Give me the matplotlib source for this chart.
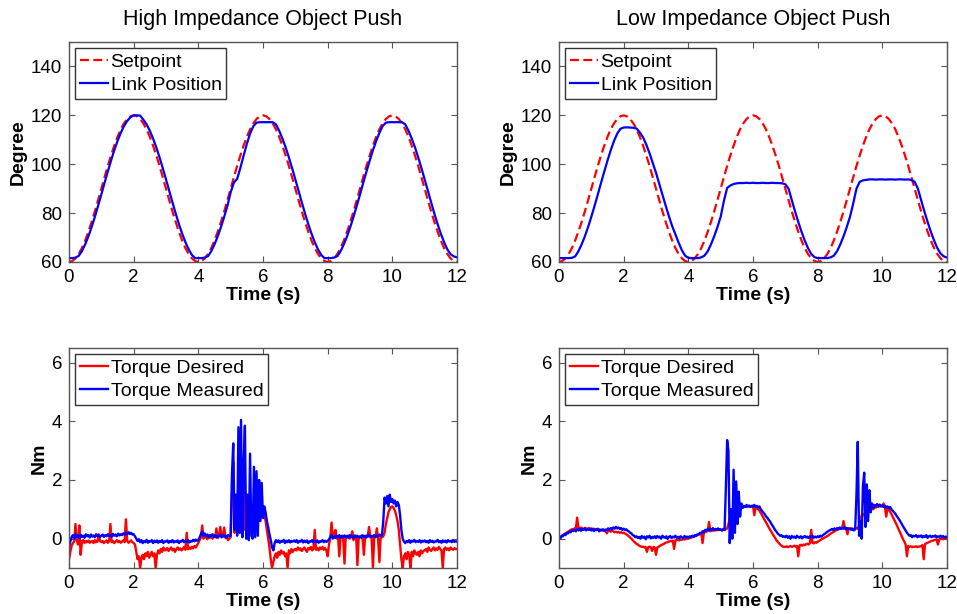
import numpy as np
import matplotlib
matplotlib.use("Agg")
import matplotlib.pyplot as plt

plt.rcParams['font.family'] = ['Liberation Sans', 'DejaVu Sans']

# ---------------- data ----------------
titles = ["High Impedance Object Push", "Low Impedance Object Push"]
pos_legend = ["Setpoint", "Link Position"]
tq_legend = ["Torque Desired", "Torque Measured"]
x_ticks = [0, 2, 4, 6, 8, 10, 12]
deg_ticks = [60, 80, 100, 120, 140]
nm_ticks = [0, 2, 4, 6]

# positions sampled every 0.1 s (0 .. 12 s)
time_pos = np.linspace(0, 12, 121)
setpoint_deg = [
    60, 60.4, 61.5, 63.3, 65.7, 68.8, 72.4, 76.4, 80.7, 85.3,
    90, 94.7, 99.3, 103.6, 107.6, 111.2, 114.3, 116.7, 118.5, 119.6,
    120, 119.6, 118.5, 116.7, 114.3, 111.2, 107.6, 103.6, 99.3, 94.7,
    90, 85.3, 80.7, 76.4, 72.4, 68.8, 65.7, 63.3, 61.5, 60.4,
    60, 60.4, 61.5, 63.3, 65.7, 68.8, 72.4, 76.4, 80.7, 85.3,
    90, 94.7, 99.3, 103.6, 107.6, 111.2, 114.3, 116.7, 118.5, 119.6,
    120, 119.6, 118.5, 116.7, 114.3, 111.2, 107.6, 103.6, 99.3, 94.7,
    90, 85.3, 80.7, 76.4, 72.4, 68.8, 65.7, 63.3, 61.5, 60.4,
    60, 60.4, 61.5, 63.3, 65.7, 68.8, 72.4, 76.4, 80.7, 85.3,
    90, 94.7, 99.3, 103.6, 107.6, 111.2, 114.3, 116.7, 118.5, 119.6,
    120, 119.6, 118.5, 116.7, 114.3, 111.2, 107.6, 103.6, 99.3, 94.7,
    90, 85.3, 80.7, 76.4, 72.4, 68.8, 65.7, 63.3, 61.5, 60.4,
    60]
link_high_deg = [
    61.6, 61.6, 61.8, 62.5, 64.5, 67.2, 70.5, 74.3, 78.5, 83.0,
    87.6, 92.4, 97.0, 101.5, 105.7, 109.5, 112.8, 115.6, 117.7, 119.2,
    120.0, 120.0, 119.9, 118.2, 116.3, 113.7, 110.5, 106.9, 102.8, 98.4,
    93.8, 89.1, 84.4, 79.8, 75.5, 71.6, 68.1, 65.2, 62.9, 61.6,
    61.6, 61.6, 61.8, 62.4, 64.4, 67.2, 70.5, 74.3, 78.5, 83.0,
    88.5, 92.5, 94.0, 98.5, 103.5, 108.3, 112.5, 115.5, 117.0, 117.2,
    117.2, 117.2, 117.2, 117.2, 116.3, 113.7, 110.5, 106.9, 102.8, 98.4,
    93.8, 89.1, 84.4, 79.8, 75.5, 71.6, 68.1, 65.2, 62.9, 61.6,
    61.6, 61.6, 61.8, 62.4, 64.4, 67.2, 70.5, 74.3, 78.5, 83.0,
    87.6, 92.4, 97.0, 101.5, 105.7, 109.5, 112.8, 115.6, 117.0, 117.2,
    117.2, 117.2, 117.2, 117.2, 116.3, 113.7, 110.5, 106.9, 102.8, 98.4,
    93.8, 89.1, 84.4, 79.8, 75.5, 71.6, 68.1, 65.2, 63.2, 62.3,
    61.9]
link_low_deg = [
    61.6, 61.6, 61.6, 61.6, 61.7, 62.3, 64.4, 67.2, 70.5, 74.3,
    78.5, 83.0, 87.6, 92.4, 97.0, 101.5, 105.7, 109.5, 112.5, 114.5,
    115.0, 115.1, 115.0, 114.9, 114.6, 113.0, 111.0, 108.0, 104.5, 100.5,
    96.5, 92.0, 87.5, 83.0, 78.7, 74.7, 71.3, 67.9, 64.8, 62.6,
    61.7, 61.6, 61.6, 61.6, 61.9, 62.6, 64.4, 67.2, 70.5, 74.3,
    78.5, 85.0, 90.3, 91.3, 91.9, 92.2, 92.3, 92.3, 92.4, 92.3,
    92.4, 92.3, 92.3, 92.4, 92.3, 92.3, 92.4, 92.3, 92.3, 92.2,
    91.8, 90.0, 85.3, 80.7, 76.4, 72.4, 68.8, 65.7, 63.3, 62.0,
    61.6, 61.6, 61.6, 61.6, 61.9, 62.6, 64.4, 67.2, 70.5, 74.3,
    78.5, 84.0, 90.0, 92.8, 93.4, 93.6, 93.8, 93.8, 93.7, 93.8,
    93.8, 93.7, 93.8, 93.8, 93.7, 93.8, 93.8, 93.7, 93.8, 93.5,
    92.8, 90.0, 85.3, 80.7, 76.4, 72.4, 68.8, 65.7, 63.5, 62.3,
    61.8]

# torques sampled every 0.04 s (0 .. 12 s), in 1/100 Nm
time_tq = np.linspace(0, 12, 301)
torque_desired_high_cNm = [
    -70, -45, -25, -15, -10, 50, -5, -20, 45, -55, -10, -5, -15, -8, -12, -6, -14, -10, -8, -15, -5, -12, -10, 15, -8,
    -12, -8, -15, -10, -6, -14, -9, 50, -12, -8, -15, -10, -5, -12, -8, -14, -10, -6, -12, 66, -8, -14, -10, -6, -12,
    -15, -20, -45, -70, -60, -100, -65, -55, -70, -50, -60, -45, -65, -55, -45, -60, -50, -100, -55, -40, -50, -35, -45, -30, -40,
    -38, -32, -42, -35, -30, -40, -34, -45, -36, -30, -38, -33, -40, -35, -28, -38, 20, -36, -30, -35, -28, -33, -25, -30, -22,
    -15, -5, 5, 45, 0, 8, 5, -2, 10, 3, 8, 0, 12, 5, 35, 2, 10, 40, 5, 8, 38, 2, 5, -5, 0,
    5, 150, 260, 20, 120, 30, 180, 20, 100, 40, 165, 30, 110, 50, 130, 60, 100, 80, 110, 90, 100, 110, 95, 100, 95,
    100, 85, 60, 30, 0, -30, -70, -100, -80, -60, -50, -65, -45, -55, -40, -50, -45, -60, -50, -100, -40, -50, -35, -45, -38,
    -35, -40, -30, -38, -33, -42, -35, -30, -38, -45, -32, -36, -28, -40, -35, 30, -38, -32, -40, -30, -35, -28, -38, -32, -40,
    -60, -20, 0, 55, 5, 10, 30, 0, 8, -60, 5, 10, 0, -85, 8, 5, 10, 0, 5, 25, -5, 5, 10, -90, 5,
    5, 10, 0, -55, 8, 5, 10, 40, 5, 0, -100, 8, 5, 35, 0, -80, 10, 5, 8, 20, 50, 70, 90, 100, 108,
    110, 105, 95, 80, 60, 30, -20, -70, -100, -60, -50, -70, -45, -55, -100, -45, -60, -40, -50, -55, -45, -60, -40, -50, -42,
    -40, -35, -45, -30, -38, -42, -35, -30, -40, -33, -38, -28, -35, -40, -100, -35, -30, -38, -33, -40, -30, -35, -38, -32, -36,
    -35]
torque_measured_high_cNm = [
    -30, -10, 5, 12, 0, 15, 5, 12, 2, 14, 6, 10, 3, 15, 8, 12, 4, 14, 7, 11, 5, 15, 8, 12, 6,
    10, 14, 6, 12, 8, 15, 9, 13, 7, 16, 10, 14, 8, 17, 11, 15, 12, 18, 14, 20, 15, 22, 16, 20, 14,
    15, 8, 0, -8, -2, -12, -5, -15, -8, -12, -4, -14, -8, -10, -5, -15, -7, -12, -6, -14, -8, -11, -5, -15, -9,
    -10, -6, -14, -8, -12, -5, -13, -9, -11, -6, -15, -8, -10, -4, -12, -7, -11, -5, -13, -8, -10, -4, -9, -3, -7,
    -5, 5, 15, 25, 10, 18, 8, 14, 5, 12, 8, 15, 6, 12, 4, 10, 8, 14, 5, 12, 7, 10, 4, 12, 8,
    10, 220, 325, 30, 150, 10, 380, 20, 405, 5, 250, 385, 0, 150, -5, 290, 10, 0, 245, 5, 230, 10, 200, 60, 190,
    70, 110, 90, 60, 40, 15, -5, -30, -40, -15, -5, -12, -6, -14, -8, -10, -4, -15, -7, -12, -5, -13, -8, -10, -6,
    -11, -5, -14, -8, -10, -4, -13, -7, -12, -6, -15, -9, -10, -5, -13, -8, -11, -6, -14, -9, -10, -5, -12, -7, -11,
    -8, -2, 5, 12, 0, 8, 3, 10, 5, 12, 2, 9, 4, 11, 6, 10, 3, 12, 5, 9, 2, 11, 6, 10, 4,
    8, 3, 12, 6, 10, 4, 13, 7, 11, 5, 9, 12, 6, 10, 8, 14, 9, 12, 60, 140, 120, 145, 110, 150, 125,
    135, 120, 130, 110, 125, 115, 80, 30, 0, -10, -15, -8, -12, -5, -14, -7, -10, -4, -12, -8, -11, -5, -13, -7, -10,
    -6, -12, -8, -14, -5, -11, -7, -13, -9, -10, -4, -12, -8, -14, -6, -11, -7, -13, -5, -10, -8, -12, -6, -11, -9,
    -10]
torque_desired_low_cNm = [
    0, 5, 8, 12, 15, 18, 20, 24, 26, 30, 32, 30, 35, 33, 72, 36, 34, 38, 35, 33, 37, 35, 34, 36, 33,
    35, 32, 34, 31, 33, 30, 32, 29, 31, 28, 30, 27, 18, 28, 26, 24, 27, 25, 22, 24, 21, 23, 20, 22, 19,
    20, 18, 15, 12, 8, 4, 0, -5, -10, -14, -18, -20, -24, -26, -28, -27, -30, -28, -45, -29, -27, -30, -42, -28, -30,
    -55, -30, -28, -25, -22, -20, -18, -15, -13, -12, -10, -8, -9, -7, -35, -6, -5, -4, -6, -3, -4, -2, -3, -1, 0,
    0, 2, 3, 5, 6, 8, 10, 12, 14, 16, 18, -15, 20, 22, 24, 26, 57, 25, 28, 27, 29, 28, 30, 29, 30,
    30, 28, 31, 29, 32, 35, 50, 70, 85, 90, 95, 98, 100, 102, 104, 105, 106, 107, 108, 110, 108, 110, 109, 111, 110,
    112, 80, 108, 105, 100, 95, 88, 80, 72, 64, 56, 48, 40, 32, 25, 17, 10, 3, -5, -10, -15, -20, -24, -27, -28,
    -28, -26, -29, -27, -25, -28, -26, -24, -27, -25, -60, -23, -21, -24, -20, -22, -19, -17, -20, -15, 30, -14, -16, -12, -14,
    -10, -8, -5, -2, 0, 3, 5, 8, 10, 14, 17, 20, 22, 25, 28, 30, 32, 33, 35, 36, 60, 34, 36, 15, 35,
    33, 35, 32, 34, 33, 36, 34, 45, 65, 80, 85, 78, 90, 95, 100, 98, 102, 105, 100, 108, 106, 110, 108, 112, 110,
    110, 120, 108, 75, 105, 100, 92, 84, 75, 66, 57, 48, 38, 28, 18, 8, -2, -10, -20, -60, -25, -28, -26, -29, -27,
    -28, -26, -29, -27, -27, -25, -22, -70, -18, -16, -14, -12, -10, -8, -7, -5, -4, -3, -20, -2, -1, 0, -2, 0, -1,
    0]
torque_measured_low_cNm = [
    5, 0, 10, 8, 15, 12, 20, 18, 24, 22, 28, 26, 30, 25, 32, 28, 34, 27, 33, 30, 35, 28, 32, 30, 34,
    28, 33, 26, 31, 29, 34, 25, 30, 28, 32, 26, 31, 29, 35, 30, 36, 32, 38, 34, 40, 35, 38, 33, 36, 30,
    34, 30, 32, 27, 25, 20, 18, 12, 10, 5, 8, 2, 6, 0, 9, 3, 7, -2, 8, 4, 10, 1, 6, 3, 8,
    2, 9, 4, 7, 0, 10, 5, 3, 8, -1, 6, 9, 2, 7, 4, 10, 3, 6, 1, 8, 5, 2, 9, 4, 7,
    3, 8, 5, 10, 6, 12, 9, 15, 14, 20, 18, 25, 22, 30, 27, 33, 28, 34, 30, 36, 29, 33, 31, 35, 30,
    32, 28, 33, 30, 170, 336, 300, -15, 100, 0, 235, 20, 195, 50, 160, 75, 120, 105, 112, 108, 115, 110, 113, 108, 112,
    110, 115, 108, 112, 106, 110, 100, 95, 88, 84, 76, 72, 65, 60, 52, 45, 38, 30, 25, 18, 14, 10, 12, 6, 8,
    5, 10, 3, 8, 0, 9, 4, 7, 2, 10, 5, 3, 8, 1, 6, 9, 4, 7, 2, 8, 5, 10, 3, 7, 4,
    8, 5, 10, 7, 12, 15, 18, 22, 25, 28, 30, 33, 29, 35, 31, 36, 32, 38, 33, 37, 34, 39, 32, 36, 33,
    35, 30, 34, 28, 32, 150, 330, 10, 60, 0, 180, 225, 40, 185, 60, 165, 90, 120, 105, 115, 110, 118, 112, 116, 110,
    114, 108, 112, 106, 110, 104, 108, 100, 95, 90, 85, 78, 72, 65, 58, 50, 42, 35, 28, 20, 15, 10, 12, 5, 10,
    8, 12, 5, 10, 7, 11, 4, 9, 6, 12, 3, 8, 10, 5, 9, 7, 11, 4, 8, 6, 10, 5, 9, 3, 7,
    5]

# ---------------- figure ----------------
RED = "#ff0000"
BLUE = "#0000ff"
SPINE = "#555555"

fig = plt.figure(figsize=(9.57, 6.14), dpi=100)
W, H = 957, 614


def make_ax(x0, y0, x1, y1):
    return fig.add_axes([x0 / W, 1 - y1 / H, (x1 - x0) / W, (y1 - y0) / H])


axes_px = [(69, 42, 457, 262), (559, 42, 947, 262),
           (69, 348, 457, 568), (559, 348, 947, 568)]
axs = [make_ax(*p) for p in axes_px]


def style(ax, yticks, ylim, ylabel):
    ax.set_xlim(0, 12)
    ax.set_ylim(*ylim)
    ax.set_xticks(x_ticks)
    ax.set_yticks(yticks)
    ax.tick_params(direction='in', top=True, right=True, length=4,
                   width=0.8, color=SPINE, labelsize=13.5, pad=5)
    for s in ax.spines.values():
        s.set_color(SPINE)
        s.set_linewidth(1.0)
    ax.set_xlabel("Time (s)", fontsize=14, fontweight='bold', labelpad=1)
    ax.set_ylabel(ylabel, fontsize=14, fontweight='bold', labelpad=3)


def legend(ax):
    leg = ax.legend(loc='upper left', fontsize=14, handlelength=1.45,
                    handletextpad=0.12, borderpad=0.25, labelspacing=0.3,
                    borderaxespad=0.32, fancybox=False, framealpha=1)
    leg.get_frame().set_edgecolor("#333333")
    leg.get_frame().set_linewidth(1.0)


links = [link_high_deg, link_low_deg]
for i in range(2):
    ax = axs[i]
    ax.plot(time_pos, setpoint_deg, color=RED, lw=1.6, ls=(0, (4, 2)),
            label=pos_legend[0])
    ax.plot(time_pos, links[i], color=BLUE, lw=1.6, label=pos_legend[1])
    style(ax, deg_ticks, (60, 150), "Degree")
    ax.set_title(titles[i], fontsize=15.5, pad=12)
    legend(ax)

tqs = [(torque_desired_high_cNm, torque_measured_high_cNm),
       (torque_desired_low_cNm, torque_measured_low_cNm)]
for i in range(2):
    ax = axs[2 + i]
    d, m = tqs[i]
    ax.plot(time_tq, np.array(d) / 100.0, color=RED, lw=1.7, label=tq_legend[0])
    ax.plot(time_tq, np.array(m) / 100.0, color=BLUE, lw=1.7, label=tq_legend[1])
    style(ax, nm_ticks, (-1, 6.5), "Nm")
    legend(ax)

fig.savefig("out.png", dpi=100)
